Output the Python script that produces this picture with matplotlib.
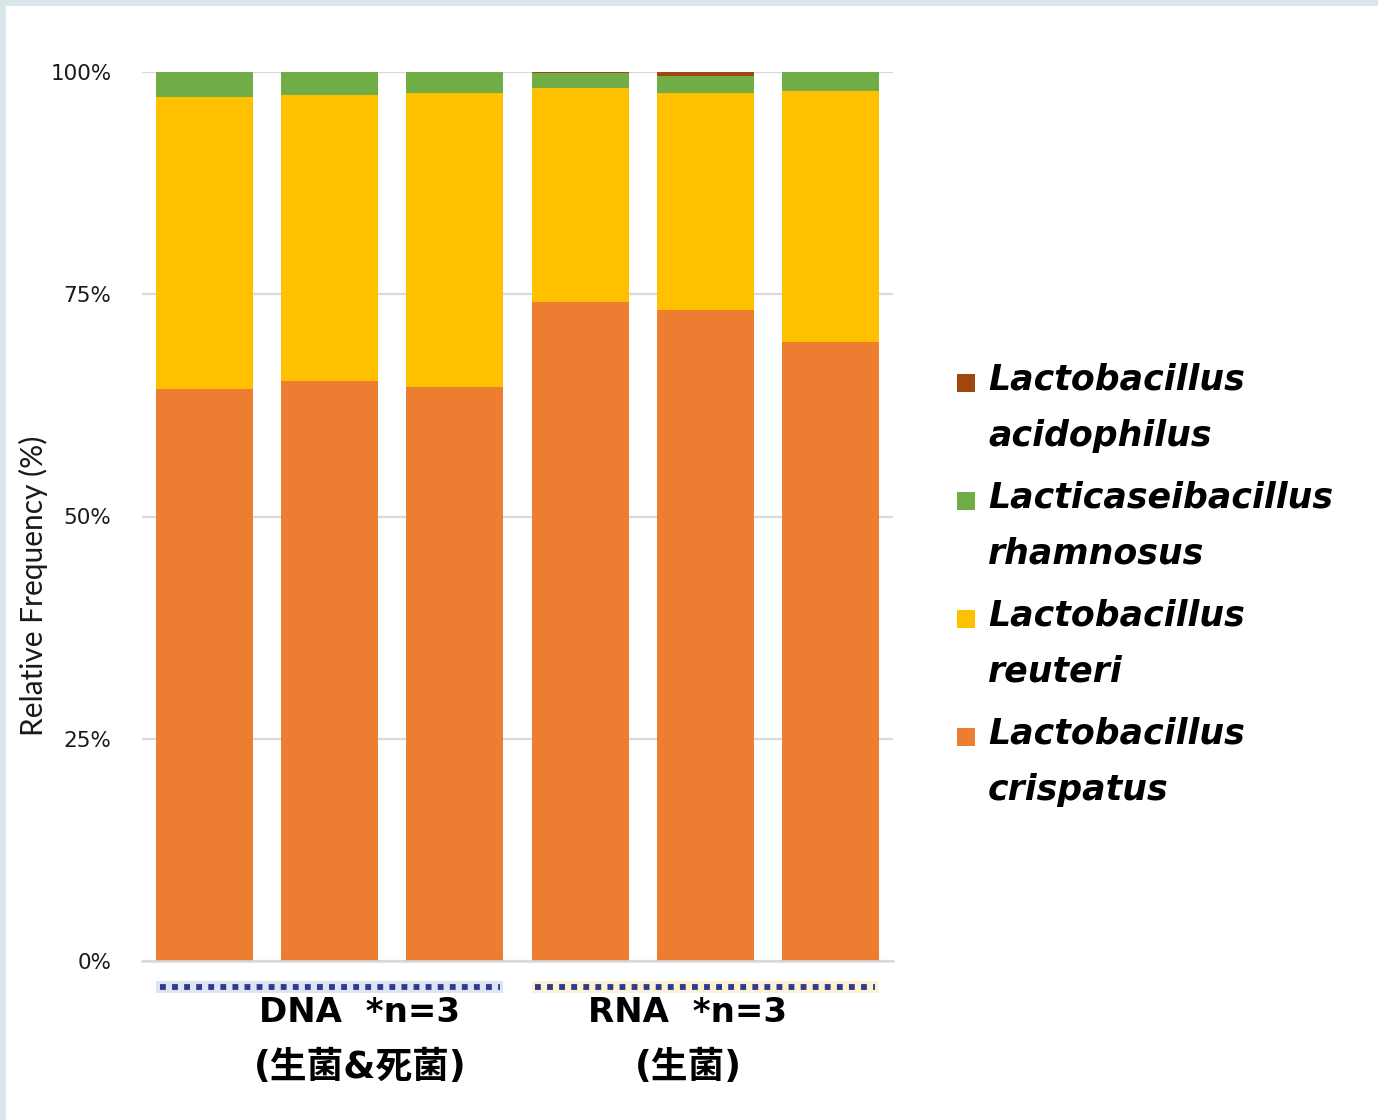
import matplotlib.pyplot as plt
import numpy as np
from matplotlib.patches import Rectangle

# relative abundance (%) per sample, three DNA replicates then three RNA replicates
samples = ["DNA-1", "DNA-2", "DNA-3", "RNA-1", "RNA-2", "RNA-3"]
crispatus = [64.3, 65.2, 64.6, 74.1, 73.2, 69.6]
reuteri = [32.9, 32.2, 33.0, 24.1, 24.4, 28.3]
rhamnosus = [2.8, 2.6, 2.4, 1.7, 2.0, 2.05]
acidophilus = [0.0, 0.0, 0.0, 0.1, 0.4, 0.05]

species = [
    ("Lactobacillus", "crispatus"),
    ("Lactobacillus", "reuteri"),
    ("Lacticaseibacillus", "rhamnosus"),
    ("Lactobacillus", "acidophilus"),
]
colors = ["#ED7D31", "#FFC000", "#70AD47", "#9E480E"]
yticks = [0, 25, 50, 75, 100]
ytick_labels = ["0%", "25%", "50%", "75%", "100%"]
groups = [("DNA  *n=3", "(生菌&死菌)", 0, 2), ("RNA  *n=3", "(生菌)", 3, 5)]
group_label_x = [360, 688]
band_colors = ["#DCE6F2", "#FDF1D3"]

W, H = 1378, 1120
fig = plt.figure(figsize=(W / 100, H / 100), dpi=100)
fig.patch.set_facecolor("white")

# thin frame strips on the top and left
fig.add_artist(Rectangle((0, 1 - 6 / H), 1, 6 / H, transform=fig.transFigure,
                         color="#D7E7EA", lw=0, zorder=0))
fig.add_artist(Rectangle((0, 0), 6 / W, 1, transform=fig.transFigure,
                         color="#D7E7EA", lw=0, zorder=0))

ax = fig.add_axes([142 / W, (H - 961) / H, 751 / W, 889 / H])

x = np.arange(len(samples))
bar_w = 0.775
bottom = np.zeros(len(samples))
for vals, col in zip([crispatus, reuteri, rhamnosus, acidophilus], colors):
    ax.bar(x, vals, bar_w, bottom=bottom, color=col, zorder=2)
    bottom += np.array(vals)

ax.set_xlim(-0.5, len(samples) - 0.5)
ax.set_ylim(0, 100)
ax.set_xticks([])
ax.set_yticks(yticks)
ax.set_yticklabels(ytick_labels, fontsize=15.5, color="#1a1a1a")
ax.tick_params(axis="y", length=0, pad=22)
ax.yaxis.grid(True, color="#D9D9D9", lw=1.6, zorder=0)
ax.set_axisbelow(True)
for side in ["top", "right", "left"]:
    ax.spines[side].set_visible(False)
ax.spines["bottom"].set_color("#D9D9D9")
ax.spines["bottom"].set_linewidth(1.8)

fig.text(33 / W, 1 - 586 / H, "Relative Frequency (%)", rotation=90,
         ha="center", va="center", fontsize=21.5, family="Lato",
         color="#1a1a1a")

# dotted group brackets under the bars
trans = ax.get_xaxis_transform()
for (l1, l2, i0, i1), bc in zip(groups, band_colors):
    x0 = x[i0] - bar_w / 2
    x1 = x[i1] + bar_w / 2
    ax.add_patch(Rectangle((x0, -0.036), x1 - x0, 0.0135, transform=trans,
                           color=bc, lw=0, clip_on=False))
    ax.plot([x0 + 0.03, x1 - 0.03], [-0.0293, -0.0293], transform=trans,
            color="#2F3A8F", lw=4.2, ls=(0, (1.0, 1.07)), solid_capstyle="butt",
            clip_on=False)

label_font = ["DejaVu Sans", "Noto Sans CJK JP"]
for (l1, l2, i0, i1), gx in zip(groups, group_label_x):
    fig.text(gx / W, 1 - 1013 / H, l1, ha="center", va="center",
             fontsize=24.5, fontweight="bold", family=label_font)
    fig.text(gx / W, 1 - 1068 / H, l2, ha="center", va="center",
             fontsize=26.5, fontweight="bold", family=label_font)

# legend, top entry is the last stacked segment
for k, ((genus, sp), col) in enumerate(zip(species[::-1], colors[::-1])):
    y0 = 380 + 118 * k
    fig.add_artist(Rectangle((957 / W, 1 - (y0 + 12) / H), 18 / W, 18 / H,
                             transform=fig.transFigure, color=col, lw=0))
    for j, word in enumerate([genus, sp]):
        fig.text(988 / W, 1 - (y0 + 56 * j) / H, word, ha="left", va="center",
                 fontsize=25, fontweight="bold", fontstyle="italic",
                 family="DejaVu Sans")

fig.savefig("out.png", dpi=100)
